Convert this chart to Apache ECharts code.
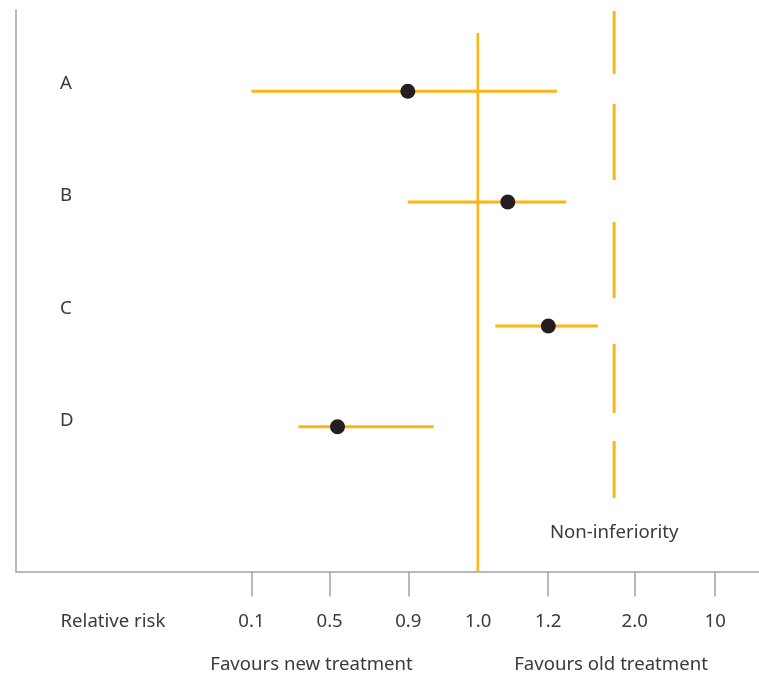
<!DOCTYPE html>
<html>
<head>
<meta charset="utf-8">
<script src="https://cdn.jsdelivr.net/npm/echarts@6/dist/echarts.min.js"></script>
<style>html,body{margin:0;padding:0;background:#fff}#c{width:759px;height:676px}</style>
</head>
<body>
<div id="c"></div>
<script>
// Ordinal x positions of the relative-risk tick labels (axis units)
const tickLabels = ['Relative risk', '0.1', '0.5', '0.9', '1.0', '1.2', '2.0', '10'];
const tickPos    = [-1.77, 0, 1.0, 2.006, 2.90, 3.795, 4.90, 5.93];
const tickMarkPos = [0, 1.0, 2.006, 3.795, 4.90, 5.93];

// Rows
const rowNames  = ['A', 'B', 'C', 'D'];
const rowLabelY = [0.654, 1.656, 2.657, 3.659];
const rowY      = [0.723, 1.710, 2.814, 3.711];
const estimate  = [2.0, 3.278, 3.796, 1.101];
const lower     = [0.0, 2.0, 3.119, 0.60];
const upper     = [3.905, 4.026, 4.429, 2.332];

// Reference lines
const noEffectX = 2.895;
const noEffectY = [0.205, 5];
const nonInfX = 4.638;
const nonInfSegments = [[0.009, 0.570], [0.837, 1.514], [1.888, 2.565], [2.974, 3.589], [3.838, 4.346]];
const nonInfLabelY = 4.657;

const orange = '#FDB515';
const axisGray = '#a3a3a3';
const textColor = '#3a3a3a';
const font = 'Noto Sans';
const fs = 18.6;

const chart = echarts.init(document.getElementById('c'));
chart.setOption({
  animation: false,
  grid: { left: 16, right: 0, top: 10, bottom: 104.5, containLabel: false, outerBoundsMode: 'none' },
  xAxis: {
    type: 'value', min: -3.01, max: 6.49,
    axisLine: { show: true, onZero: false, lineStyle: { color: axisGray, width: 1.5 } },
    axisTick: { show: true, customValues: tickMarkPos, length: 25, lineStyle: { color: axisGray, width: 1.5 } },
    axisLabel: {
      customValues: tickPos, margin: 41, color: textColor, fontFamily: font, fontSize: fs,
      formatter: v => tickLabels[tickPos.indexOf(v)]
    },
    splitLine: { show: false }
  },
  yAxis: {
    type: 'value', min: 0, max: 5, inverse: true,
    axisLine: { show: true, onZero: false, lineStyle: { color: axisGray, width: 1.5 } },
    axisTick: { show: false },
    axisLabel: {
      customValues: rowLabelY, inside: true, margin: 44, color: textColor, fontFamily: font, fontSize: fs,
      formatter: v => rowNames[rowLabelY.indexOf(v)]
    },
    splitLine: { show: false }
  },
  graphic: [
    { type: 'text', x: 311.5, y: 665, style: { text: 'Favours new treatment', fill: textColor, font: fs + 'px "Noto Sans"', textAlign: 'center', textVerticalAlign: 'middle' } },
    { type: 'text', x: 611, y: 665, style: { text: 'Favours old treatment', fill: textColor, font: fs + 'px "Noto Sans"', textAlign: 'center', textVerticalAlign: 'middle' } }
  ],
  series: [
    {
      type: 'line', data: noEffectY.map(y => [noEffectX, y]), symbol: 'none', silent: true,
      lineStyle: { color: orange, width: 2.5 }, z: 2
    },
    {
      type: 'custom', silent: true, z: 2,
      data: nonInfSegments.map(s => [nonInfX, s[0], s[1]]),
      encode: { x: 0, y: [1, 2] },
      renderItem: (params, api) => {
        const a = api.coord([api.value(0), api.value(1)]);
        const b = api.coord([api.value(0), api.value(2)]);
        return { type: 'line', shape: { x1: a[0], y1: a[1], x2: b[0], y2: b[1] }, style: { stroke: orange, lineWidth: 3 } };
      }
    },
    {
      type: 'custom', silent: true, z: 3,
      data: rowY.map((y, i) => [lower[i], upper[i], y]),
      encode: { x: [0, 1], y: 2 },
      renderItem: (params, api) => {
        const a = api.coord([api.value(0), api.value(2)]);
        const b = api.coord([api.value(1), api.value(2)]);
        return { type: 'line', shape: { x1: a[0], y1: a[1], x2: b[0], y2: b[1] }, style: { stroke: orange, lineWidth: 3 } };
      }
    },
    {
      type: 'scatter', z: 5, symbolSize: 15,
      data: rowY.map((y, i) => [estimate[i], y]),
      itemStyle: { color: '#231f20', opacity: 1 }
    },
    {
      type: 'scatter', z: 5, symbolSize: 0, silent: true,
      data: [[nonInfX, nonInfLabelY]],
      itemStyle: { opacity: 1, color: textColor },
      label: { show: true, position: 'inside', formatter: 'Non-inferiority', color: textColor, opacity: 1, textBorderWidth: 0, fontFamily: font, fontSize: fs }
    }
  ]
});
</script>
</body>
</html>
